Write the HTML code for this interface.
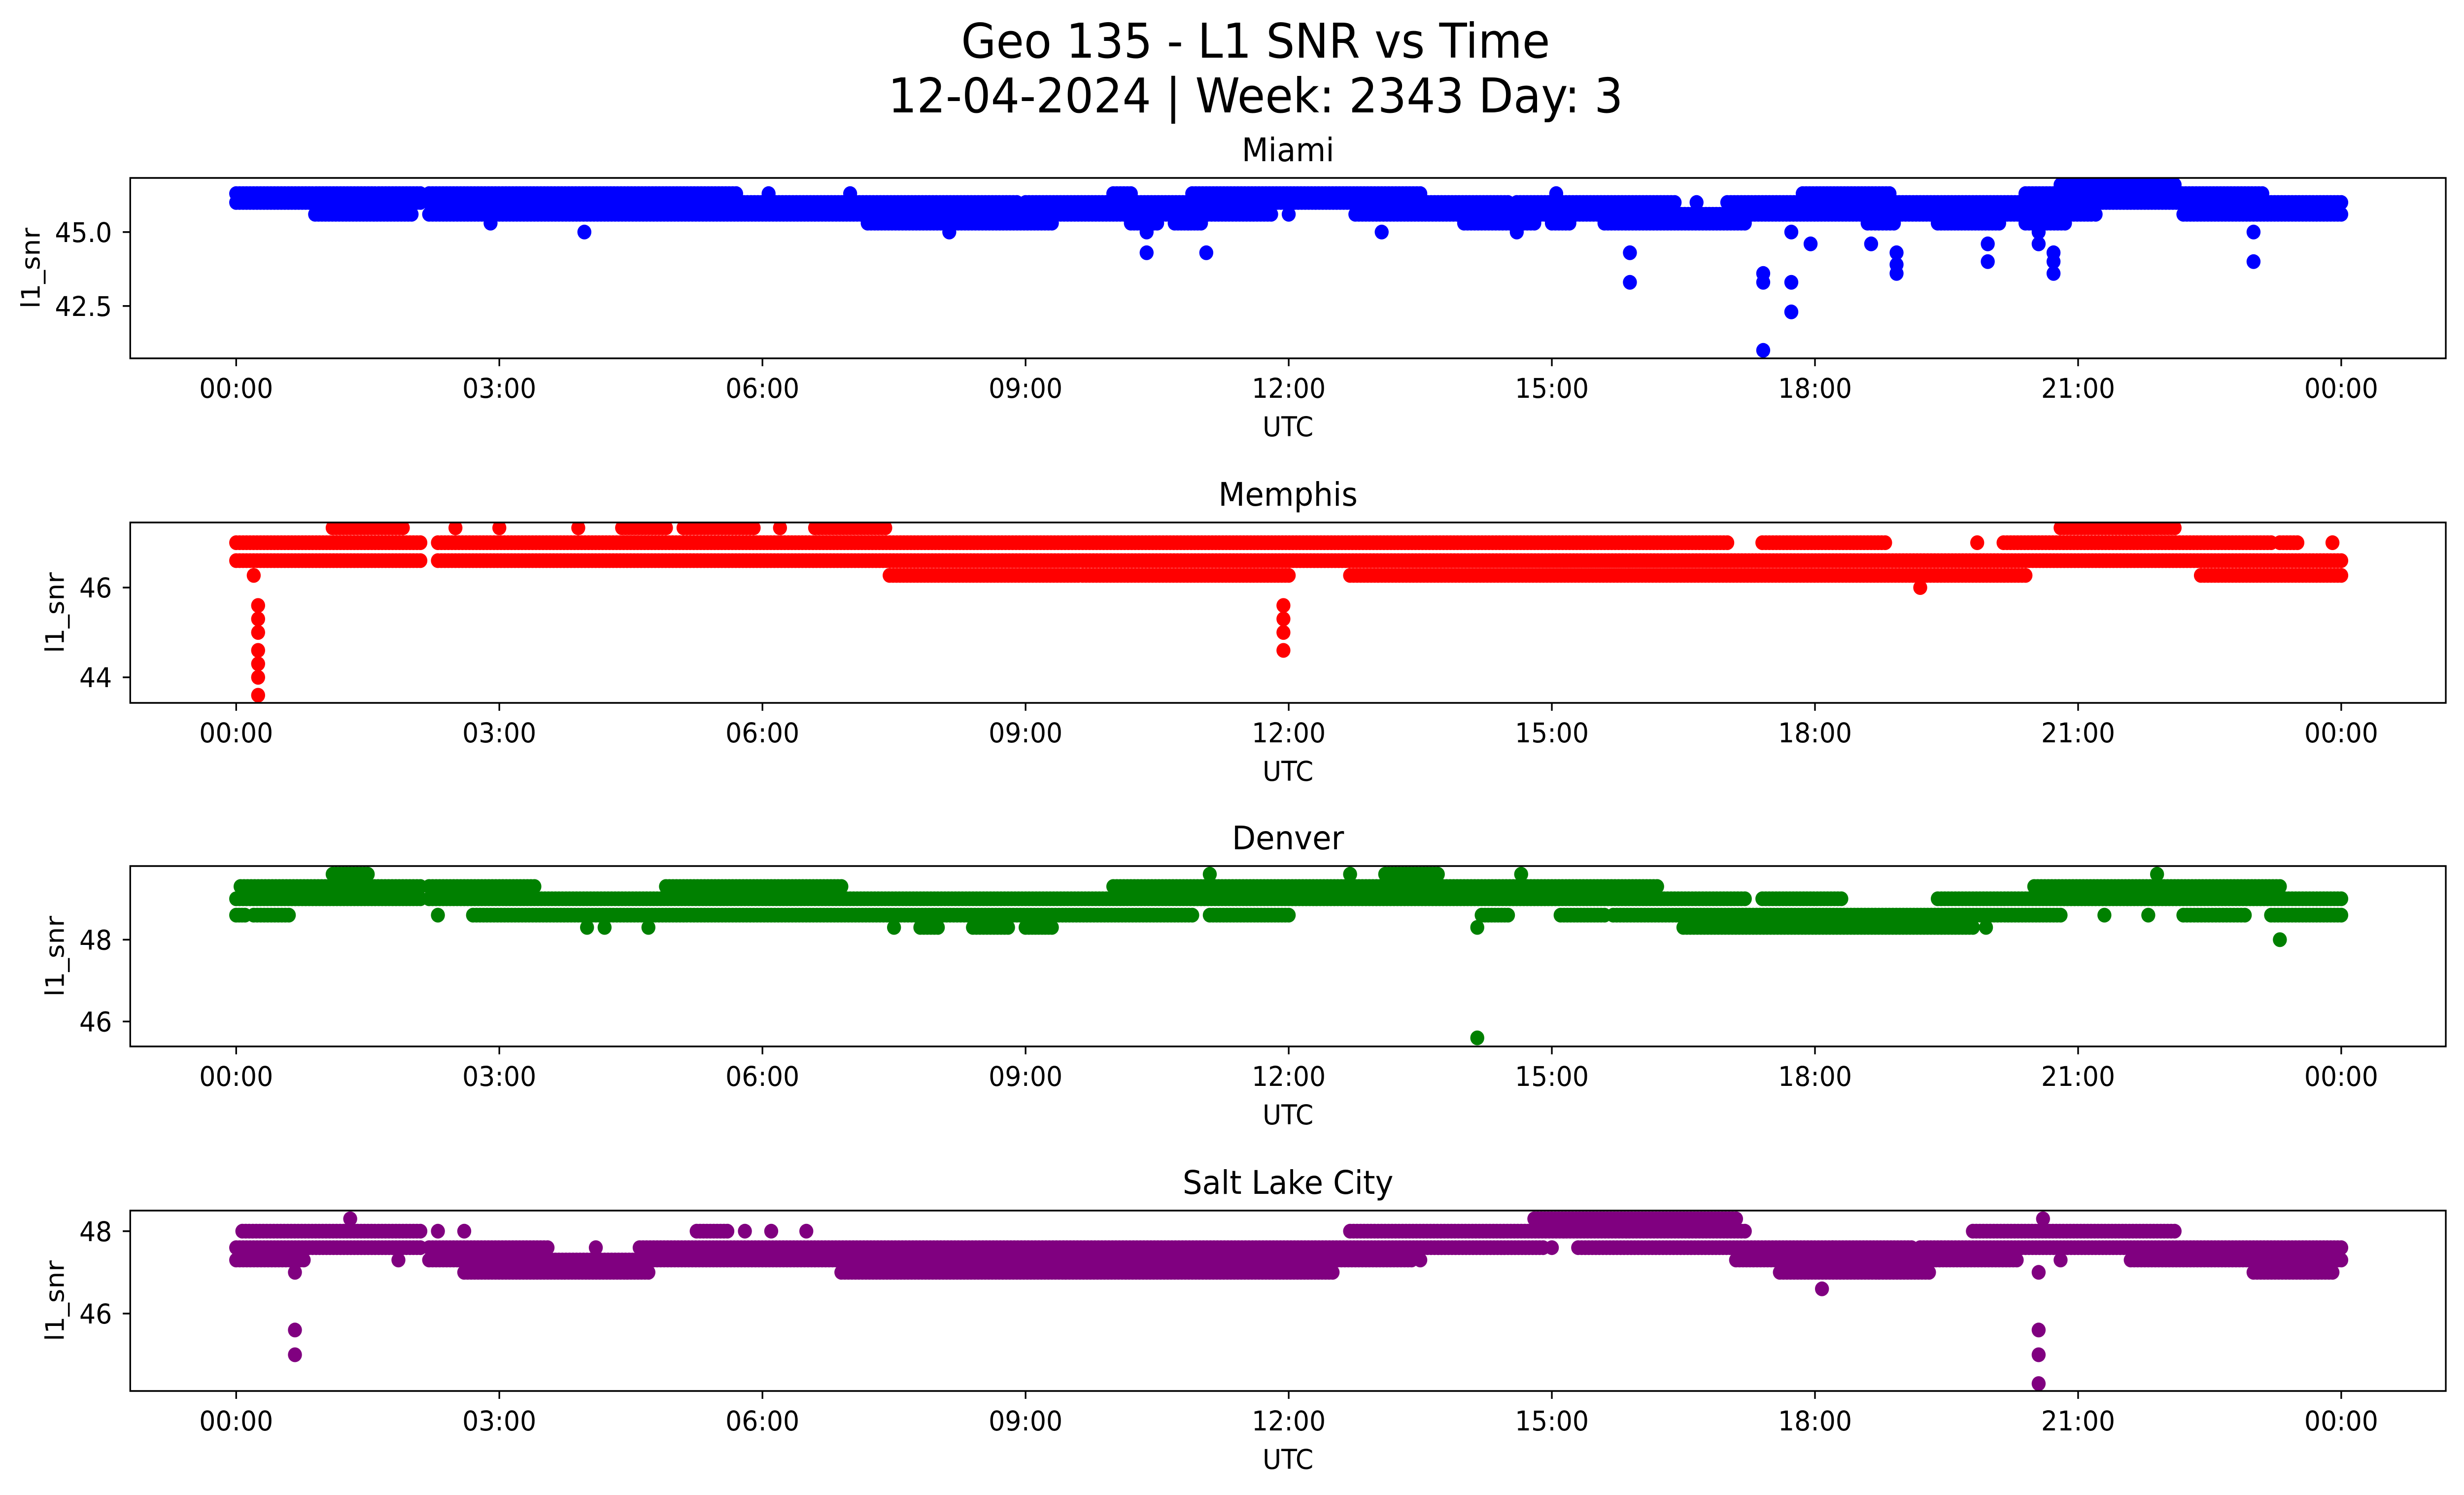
<!DOCTYPE html>
<html><head><meta charset="utf-8">
<style>
html,body{margin:0;padding:0;background:#fff;overflow:hidden;width:100%;height:100%;}
svg{display:block;font-family:"DejaVu Sans","Liberation Sans",sans-serif;width:100vw;height:100vh;}
</style></head>
<body>
<svg id="fig" xmlns="http://www.w3.org/2000/svg" viewBox="0 0 5279 3033" preserveAspectRatio="none">
<rect x="0" y="0" width="5279" height="3033" fill="#fff"/>
<text x="2690" y="117" font-size="97" text-anchor="middle">Geo 135 - L1 SNR vs Time</text>
<text x="2690" y="228" font-size="97" text-anchor="middle">12-04-2024 | Week: 2343 Day: 3</text>
</svg>
<script>
// ---------- data ----------
const xTickLabels = ["00:00","03:00","06:00","09:00","12:00","15:00","18:00","21:00","00:00"];
const xTickHours = [0,3,6,9,12,15,18,21,24];
const panelNames = ["Miami","Memphis","Denver","Salt Lake City"];
const panelColors = ["#0000ff","#ff0000","#008000","#800080"];
const yRanges = [[40.73,46.83],[43.43,47.45],[45.39,49.80],[44.12,48.50]];
const yTicksMiami = [42.5,45.0];
const yTickLabelsMiami = ["42.5","45.0"];
const yTicksMemphis = [44,46];
const yTicksDenver = [46,48];
const yTicksSLC = [46,48];

// bands: [startHour, endHour, l1_snr]
const bandsMiami = [
 [0,2.1,46.3],[2.2,5.7,46.3],[6.07,6.07,46.3],[7.0,7.0,46.3],[10.0,10.2,46.3],[10.9,13.5,46.3],[15.05,15.05,46.3],[17.86,18.85,46.3],[20.4,23.1,46.3],
 [0,2.1,46.0],[2.2,8.9,46.0],[9.0,14.5,46.0],[14.6,16.4,46.0],[16.65,16.65,46.0],[17.0,24.0,46.0],
 [0.9,2.0,45.6],[2.2,11.8,45.6],[12.0,12.0,45.6],[12.76,21.15,45.6],[21.2,21.2,45.6],[22.2,24.0,45.6],
 [2.9,2.9,45.3],[7.2,9.3,45.3],[10.2,10.5,45.3],[10.7,11.0,45.3],[14.0,14.8,45.3],[15.0,15.2,45.3],[15.6,17.2,45.3],[18.6,18.9,45.3],[19.4,20.1,45.3],[20.4,20.85,45.3],
 [20.8,22.1,46.6]
];
const outliersMiami = [[3.97,45.0],[8.13,45.0],[10.38,45.0],[10.38,44.3],[11.06,44.3],[13.06,45.0],[14.6,45.0],[15.89,44.3],[15.89,43.3],
 [17.41,43.6],[17.41,43.3],[17.41,41.0],[17.73,45.0],[17.73,43.3],[17.73,42.3],[17.95,44.6],[18.64,44.6],[18.93,44.3],[18.93,43.9],[18.93,43.6],
 [19.97,44.6],[19.97,44.0],[20.55,45.0],[20.55,44.6],[20.72,44.3],[20.72,44.0],[20.72,43.6],[23.0,45.0],[23.0,44.0]];

const bandsMemphis = [
 [0,2.1,47.0],[2.3,17.0,47.0],[17.4,18.8,47.0],[19.85,19.85,47.0],[20.15,23.2,47.0],[23.3,23.5,47.0],[23.9,23.9,47.0],
 [0,2.1,46.6],[2.3,24.0,46.6],
 [0.2,0.2,46.27],[7.45,9.6,46.27],[9.65,12.0,46.27],[12.7,20.4,46.27],[22.4,24.0,46.27],
 [1.1,1.9,47.33],[2.5,2.5,47.33],[3.0,3.0,47.33],[3.9,3.9,47.33],[4.4,4.9,47.33],[5.1,5.9,47.33],[6.2,6.2,47.33],[6.6,7.4,47.33],[20.8,22.1,47.33]
];
const outliersMemphis = [[0.25,45.6],[0.25,45.3],[0.25,45.0],[0.25,44.6],[0.25,44.3],[0.25,44.0],[0.25,43.6],
 [11.94,45.6],[11.94,45.3],[11.94,45.0],[11.94,44.6],[19.2,46.0]];

const bandsDenver = [
 [1.1,1.5,49.6],[11.1,11.1,49.6],[12.7,12.7,49.6],[13.1,13.7,49.6],[14.65,14.65,49.6],[21.9,21.9,49.6],
 [0.05,2.1,49.3],[2.2,3.4,49.3],[4.9,6.9,49.3],[10.0,16.2,49.3],[20.5,23.3,49.3],
 [0,2.1,49.0],[2.2,17.2,49.0],[17.4,18.3,49.0],[19.4,24.0,49.0],
 [0,0.1,48.6],[0.2,0.6,48.6],[2.3,2.3,48.6],[2.7,10.9,48.6],[11.1,12.0,48.6],[14.2,14.5,48.6],[15.1,15.6,48.6],[15.7,20.8,48.6],[21.3,21.3,48.6],[21.8,21.8,48.6],[22.2,22.9,48.6],[23.2,24.0,48.6],
 [4.0,4.0,48.3],[4.2,4.2,48.3],[4.7,4.7,48.3],[7.5,7.5,48.3],[7.8,8.0,48.3],[8.4,8.8,48.3],[9.0,9.3,48.3],[14.15,14.15,48.3],[16.5,19.8,48.3],[19.95,19.95,48.3]
];
const outliersDenver = [[23.3,48.0],[14.15,45.6]];

const bandsSLC = [
 [1.3,1.3,48.3],[14.8,17.1,48.3],[20.6,20.6,48.3],
 [0.07,2.1,48.0],[2.3,2.3,48.0],[2.6,2.6,48.0],[5.25,5.6,48.0],[5.8,5.8,48.0],[6.1,6.1,48.0],[6.5,6.5,48.0],[12.7,17.2,48.0],[19.8,22.1,48.0],
 [0,2.1,47.6],[2.2,3.55,47.6],[4.1,4.1,47.6],[4.6,14.9,47.6],[15.0,15.0,47.6],[15.3,18.2,47.6],[18.2,19.1,47.6],[19.2,24.0,47.6],
 [0,0.77,47.3],[1.85,1.85,47.3],[2.2,13.4,47.3],[13.5,13.5,47.3],[17.1,20.3,47.3],[20.8,20.8,47.3],[21.6,24.0,47.3],
 [0.67,0.67,47.0],[2.6,4.7,47.0],[6.9,12.5,47.0],[17.6,19.3,47.0],[20.55,20.55,47.0],[23.0,23.9,47.0]
];
const outliersSLC = [[0.67,45.6],[0.67,45.0],[18.08,46.6],[20.55,45.6],[20.55,45.0],[20.55,44.3]];

// ---------- layout ----------
const NS="http://www.w3.org/2000/svg";
const svg=document.getElementById('fig');
const AX_L=279, AX_R=5240, X0=506, X24=5016;
const panelTops=[361,1060,1757,2456], panelH=366;
function xScale(h){return X0+(X24-X0)*h/24;}
function mk(tag,attrs){const e=document.createElementNS(NS,tag);for(const k in attrs)e.setAttribute(k,attrs[k]);return e;}

const allBands=[bandsMiami,bandsMemphis,bandsDenver,bandsSLC];
const allOut=[outliersMiami,outliersMemphis,outliersDenver,outliersSLC];
const allYT=[yTicksMiami,yTicksMemphis,yTicksDenver,yTicksSLC];
const allYTL=[yTickLabelsMiami,yTicksMemphis.map(String),yTicksDenver.map(String),yTicksSLC.map(String)];
const ylabelX=[66,118,118,118];

for(let p=0;p<4;p++){
  const top=panelTops[p], bot=top+panelH;
  const [ymin,ymax]=yRanges[p];
  const yScale=v=>bot-(v-ymin)/(ymax-ymin)*panelH;
  const g=mk('g',{});
  
  
  svg.appendChild(g);
  const clipId='clip'+p;
  const cp=mk('clipPath',{id:clipId});
  cp.appendChild(mk('rect',{x:AX_L,y:top,width:AX_R-AX_L,height:panelH}));
  g.appendChild(cp);
  const pts=mk('g',{'clip-path':'url(#'+clipId+')',fill:panelColors[p]});
  
  
  g.appendChild(pts);
  const step=0.04;
  for(const b of allBands[p]){
    const n=Math.max(0,Math.round((b[1]-b[0])/step));
    for(let i=0;i<=n;i++){
      const h=n?b[0]+(b[1]-b[0])*i/n:b[0];
      const c=mk('circle',{cx:xScale(h).toFixed(1),cy:yScale(b[2]).toFixed(1),r:15});
      
      
      pts.appendChild(c);
    }
  }
  for(const o of allOut[p]){
    const c=mk('circle',{cx:xScale(o[0]).toFixed(1),cy:yScale(o[1]).toFixed(1),r:15});
    
    
    pts.appendChild(c);
  }
  const frame=mk('rect',{x:AX_L,y:top,width:AX_R-AX_L,height:panelH,fill:'none',stroke:'#000','stroke-width':3.5});
  
  
  g.appendChild(frame);
  for(let i=0;i<xTickHours.length;i++){
    const x=xScale(xTickHours[i]);
    const t=mk('line',{x1:x,x2:x,y1:bot,y2:bot+16,stroke:'#000','stroke-width':3.5});
    
    
    g.appendChild(t);
    const tl=mk('text',{x:x,y:bot+80,'font-size':55,'text-anchor':'middle'});
    tl.textContent=xTickLabels[i];
    
    
    g.appendChild(tl);
  }
  const yt=allYT[p], ytl=allYTL[p];
  for(let i=0;i<yt.length;i++){
    const y=yScale(yt[i]);
    const t=mk('line',{x1:AX_L-16,x2:AX_L,y1:y,y2:y,stroke:'#000','stroke-width':3.5});
    
    
    g.appendChild(t);
    const tl=mk('text',{x:240,y:y+20,'font-size':55,'text-anchor':'end'});
    tl.textContent=ytl[i];
    
    
    g.appendChild(tl);
  }
  const xl=mk('text',{x:(AX_L+AX_R)/2,y:bot+158,'font-size':55,'text-anchor':'middle'});
  xl.textContent='UTC';
  
  
  g.appendChild(xl);
  const cy=top+panelH/2;
  const yl=mk('text',{x:ylabelX[p],y:cy,'font-size':55,'text-anchor':'middle','dominant-baseline':'central',transform:'rotate(-90 '+ylabelX[p]+' '+cy+')'});
  yl.textContent='l1_snr';
  
  
  g.appendChild(yl);
  const tt=mk('text',{x:(AX_L+AX_R)/2,y:top-34,'font-size':66,'text-anchor':'middle'});
  tt.textContent=panelNames[p];
  
  
  g.appendChild(tt);
}
</script>
</body></html>
